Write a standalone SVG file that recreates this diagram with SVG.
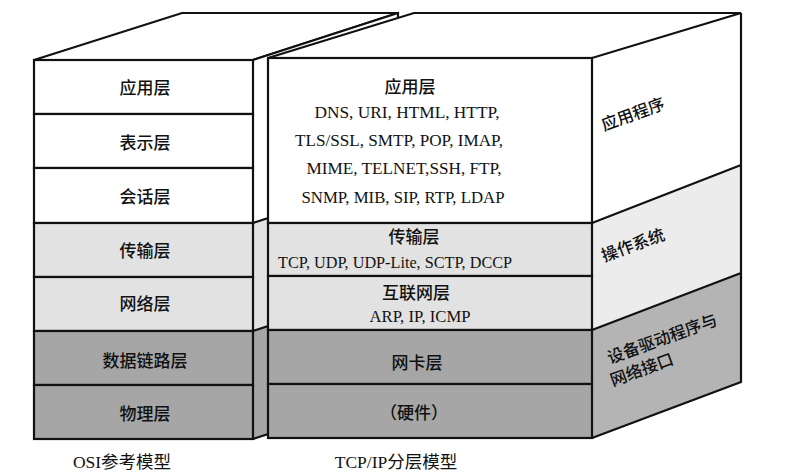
<svg xmlns="http://www.w3.org/2000/svg" width="795" height="472" viewBox="0 0 795 472">
<style>
.ln{stroke:#111;stroke-width:2.2;stroke-linejoin:miter}
.w{fill:#fff}.l{fill:#e2e2e2}.d{fill:#a6a6a6}.ls{fill:#ececec}.ds{fill:#b4b4b4}
.cj{font-family:"Noto Sans CJK SC",sans-serif;font-size:17px;font-weight:500;text-anchor:middle;fill:#111}
.lt{font-family:"Liberation Serif","Noto Sans CJK SC",serif;font-size:17px;text-anchor:middle;fill:#111}
.sd{font-family:"Noto Sans CJK SC",sans-serif;font-size:16.5px;font-weight:500;fill:#111}
.cap{font-family:"Liberation Serif","Noto Sans CJK SC",serif;font-size:17.5px;text-anchor:middle;fill:#111}
</style>
<rect width="795" height="472" fill="#fff"/>
<g id="osi-model">
  <polygon class="ln w" points="34,60 182,13 398,13 253,60"/>
  <polygon class="w" points="253,60 398,13 398,176 253,223"/>
  <polygon class="l" points="253,223 398,176 398,284 253,331"/>
  <polygon class="d" points="253,331 398,284 398,392 253,439"/>
  <path class="ln" fill="none" d="M253,223 L398,176 M253,331 L398,284 M253,439 L398,392 M253,60 L398,13 L398,392"/>
  <g id="osi-app"><rect class="ln w" x="34" y="60" width="219" height="54"/><text class="cj" x="145" y="94">应用层</text></g>
  <g id="osi-pres"><rect class="ln w" x="34" y="114" width="219" height="54"/><text class="cj" x="145" y="149">表示层</text></g>
  <g id="osi-sess"><rect class="ln w" x="34" y="168" width="219" height="55"/><text class="cj" x="145" y="203">会话层</text></g>
  <g id="osi-trans"><rect class="ln l" x="34" y="223" width="219" height="54"/><text class="cj" x="145" y="257">传输层</text></g>
  <g id="osi-net"><rect class="ln l" x="34" y="277" width="219" height="54"/><text class="cj" x="145" y="310">网络层</text></g>
  <g id="osi-link"><rect class="ln d" x="34" y="331" width="219" height="54"/><text class="cj" x="145" y="367">数据链路层</text></g>
  <g id="osi-phys"><rect class="ln d" x="34" y="385" width="219" height="54"/><text class="cj" x="145" y="420">物理层</text></g>
  <text class="cap" x="122" y="468">OSI参考模型</text>
</g>
<g id="tcpip-model">
  <polygon class="w" points="592,58 741,13 741,165 592,223"/>
  <polygon class="ls" points="592,223 741,165 741,273 592,330"/>
  <polygon class="ds" points="592,330 741,273 741,382 592,438"/>
  <path class="ln" fill="none" d="M592,223 L741,165 M592,330 L741,273 M592,438 L741,382 L741,13"/>
  <polygon class="ln w" points="268,58 414,13 741,13 592,58"/>
  <g id="side-app"><text class="sd" transform="translate(604,131) rotate(-20)">应用程序</text></g>
  <g id="side-os"><text class="sd" transform="translate(604,262) rotate(-20)">操作系统</text></g>
  <g id="side-drv"><g transform="translate(610,364) rotate(-20)"><text class="sd" x="0" y="0">设备驱动程序与</text><text class="sd" x="-5" y="22">网络接口</text></g></g>
  <g id="tcp-app"><rect class="ln w" x="268" y="58" width="324" height="165"/>
    <text class="cj" x="410" y="93">应用层</text>
    <text class="lt" x="407" y="118" textLength="185" lengthAdjust="spacingAndGlyphs">DNS, URI, HTML, HTTP,</text>
    <text class="lt" x="399" y="146" textLength="208" lengthAdjust="spacingAndGlyphs">TLS/SSL, SMTP, POP, IMAP,</text>
    <text class="lt" x="404" y="174" textLength="195" lengthAdjust="spacingAndGlyphs">MIME, TELNET,SSH, FTP,</text>
    <text class="lt" x="403" y="203" textLength="203" lengthAdjust="spacingAndGlyphs">SNMP, MIB, SIP, RTP, LDAP</text>
  </g>
  <g id="tcp-trans"><rect class="ln l" x="268" y="223" width="324" height="53"/>
    <text class="cj" x="414" y="243">传输层</text>
    <text class="lt" x="395" y="268" textLength="234" lengthAdjust="spacingAndGlyphs">TCP, UDP, UDP-Lite, SCTP, DCCP</text>
  </g>
  <g id="tcp-inet"><rect class="ln l" x="268" y="276" width="324" height="54"/>
    <text class="cj" x="416" y="299">互联网层</text>
    <text class="lt" x="420" y="322" textLength="101" lengthAdjust="spacingAndGlyphs">ARP, IP, ICMP</text>
  </g>
  <g id="tcp-nic"><rect class="ln d" x="268" y="330" width="324" height="54"/><text class="cj" x="417" y="369">网卡层</text></g>
  <g id="tcp-hw"><rect class="ln d" x="268" y="384" width="324" height="54"/><text class="cj" x="414" y="419">（硬件）</text></g>
  <text class="cap" x="396" y="468">TCP/IP分层模型</text>
</g>
<g id="connectors"/>
</svg>
